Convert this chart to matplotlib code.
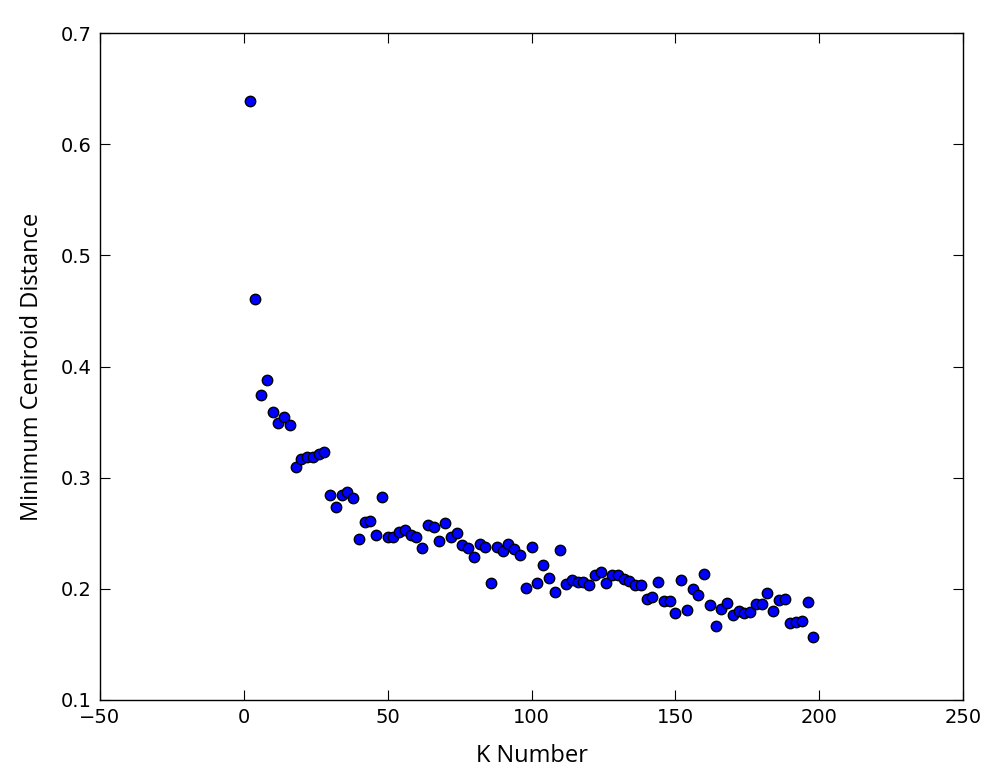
import matplotlib
matplotlib.use("Agg")
import matplotlib.pyplot as plt

# K values and the minimum centroid distance
k_values = list(range(2, 200, 2))
min_dist = [
    0.639, 0.461, 0.374, 0.388, 0.359, 0.349, 0.355, 0.347, 0.310, 0.317,
    0.319, 0.319, 0.321, 0.323, 0.284, 0.274, 0.284, 0.287, 0.282, 0.245,
    0.260, 0.261, 0.248, 0.283, 0.247, 0.247, 0.251, 0.253, 0.248, 0.247,
    0.237, 0.257, 0.256, 0.243, 0.259, 0.247, 0.250, 0.239, 0.237, 0.229,
    0.240, 0.238, 0.205, 0.238, 0.234, 0.240, 0.236, 0.230, 0.201, 0.238,
    0.205, 0.221, 0.210, 0.197, 0.235, 0.204, 0.208, 0.206, 0.206, 0.203,
    0.212, 0.215, 0.205, 0.212, 0.212, 0.209, 0.207, 0.203, 0.203, 0.191,
    0.193, 0.206, 0.189, 0.189, 0.178, 0.208, 0.181, 0.200, 0.194, 0.213,
    0.185, 0.167, 0.182, 0.187, 0.176, 0.180, 0.178, 0.179, 0.186, 0.186,
    0.196, 0.180, 0.190, 0.191, 0.169, 0.170, 0.171, 0.188, 0.157,
]

x_ticks = [-50, 0, 50, 100, 150, 200, 250]
y_ticks = [0.1, 0.2, 0.3, 0.4, 0.5, 0.6, 0.7]

fig = plt.figure(figsize=(10, 7.8), dpi=100)
ax = fig.add_axes([0.1, 0.1026, 0.863, 0.855])

ax.plot(k_values, min_dist, "o", color="blue", markeredgecolor="black",
        markeredgewidth=1.0, markersize=7.5)

ax.set_xlim(-50, 250)
ax.set_ylim(0.1, 0.7)
ax.set_xticks(x_ticks)
ax.set_yticks(y_ticks)
ax.tick_params(direction="in", top=True, right=True, length=7, width=0.8,
               labelsize=14, pad=6)
for s in ax.spines.values():
    s.set_linewidth(1.0)

label_font = ["Open Sans", "DejaVu Sans"]
ax.set_xlabel("K Number", fontsize=17, family=label_font, labelpad=12)
ax.set_ylabel("Minimum Centroid Distance", fontsize=17, family=label_font,
              labelpad=12)

fig.savefig("out.png", dpi=100, facecolor="white")
